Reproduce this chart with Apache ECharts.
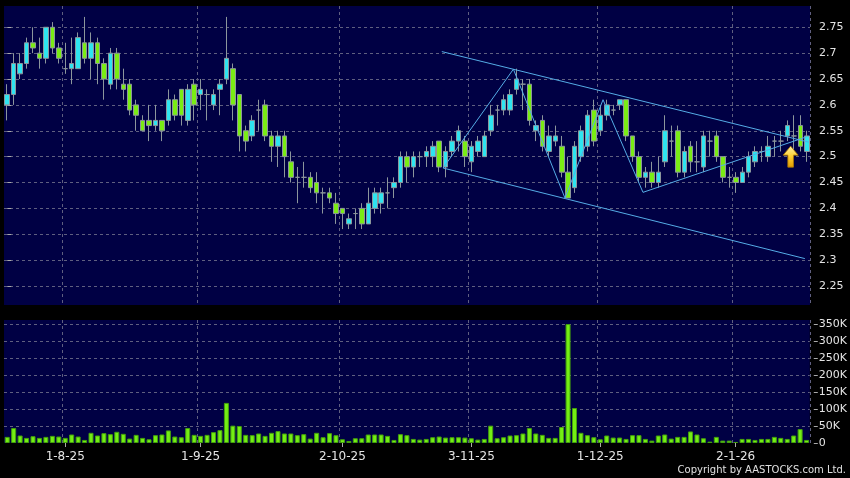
<!DOCTYPE html>
<html><head><meta charset="utf-8">
<script src="https://cdn.jsdelivr.net/npm/echarts@6/dist/echarts.min.js"></script>
<style>html,body{margin:0;padding:0;background:#000;}#c{width:850px;height:478px;}</style>
</head><body><div id="c"></div>
<script>
// ---- categories (trading days, HK calendar) ----
const firstTradingDay = '2025-07-21';
const holidays = ['2025-10-01','2025-10-07','2025-10-29','2025-12-25','2025-12-26','2026-01-01'];
const barCount = 125;

// ---- price series ----
const open  = [2.60,2.62,2.66,2.68,2.72,2.70,2.69,2.75,2.71,2.67, 2.67,2.67,2.72,2.69,2.72,2.68,2.64,2.70,2.64,2.64,
               2.60,2.57,2.57,2.56,2.57,2.57,2.61,2.63,2.57,2.64, 2.62,2.62,2.60,2.63,2.65,2.67,2.62,2.55,2.54,2.59,
               2.60,2.54,2.52,2.54,2.49,2.46,2.46,2.46,2.45,2.43, 2.43,2.41,2.40,2.37,2.39,2.40,2.37,2.40,2.41,2.43,
               2.44,2.45,2.50,2.48,2.50,2.50,2.50,2.53,2.48,2.51, 2.53,2.53,2.49,2.51,2.50,2.55,2.59,2.59,2.59,2.63,
               2.64,2.64,2.55,2.57,2.51,2.53,2.52,2.47,2.44,2.50, 2.52,2.59,2.55,2.58,2.59,2.60,2.61,2.54,2.50,2.46,
               2.47,2.45,2.49,2.53,2.55,2.47,2.52,2.49,2.48,2.53, 2.54,2.50,2.46,2.46,2.45,2.47,2.49,2.51,2.50,2.53,
               2.53,2.54,2.54,2.56,2.51];
const close = [2.62,2.68,2.68,2.72,2.71,2.69,2.75,2.71,2.69,2.67, 2.68,2.73,2.69,2.72,2.68,2.65,2.70,2.65,2.63,2.59,
               2.58,2.55,2.56,2.57,2.55,2.61,2.58,2.58,2.63,2.60, 2.63,2.62,2.62,2.64,2.69,2.60,2.54,2.53,2.57,2.59,
               2.54,2.52,2.54,2.50,2.46,2.46,2.46,2.44,2.43,2.43, 2.42,2.39,2.39,2.38,2.39,2.37,2.41,2.43,2.43,2.43,
               2.45,2.50,2.48,2.50,2.50,2.51,2.52,2.48,2.51,2.53, 2.55,2.50,2.52,2.53,2.54,2.58,2.59,2.61,2.62,2.65,
               2.64,2.57,2.56,2.52,2.54,2.54,2.47,2.42,2.52,2.55, 2.58,2.53,2.58,2.60,2.59,2.61,2.54,2.50,2.46,2.47,
               2.45,2.47,2.55,2.53,2.47,2.51,2.49,2.49,2.54,2.53, 2.50,2.46,2.46,2.45,2.47,2.50,2.51,2.51,2.52,2.53,
               2.53,2.56,2.54,2.52,2.54];
const low   = [2.57,2.60,2.65,2.67,2.70,2.67,2.68,2.70,2.68,2.66, 2.64,2.67,2.68,2.65,2.64,2.61,2.63,2.63,2.61,2.58,
               2.55,2.55,2.53,2.55,2.53,2.56,2.57,2.56,2.56,2.57, 2.59,2.57,2.59,2.58,2.64,2.57,2.51,2.51,2.53,2.55,
               2.53,2.49,2.48,2.46,2.45,2.41,2.44,2.43,2.41,2.39, 2.41,2.37,2.36,2.36,2.36,2.36,2.37,2.39,2.39,2.40,
               2.42,2.44,2.45,2.46,2.48,2.48,2.48,2.47,2.46,2.50, 2.51,2.48,2.47,2.50,2.50,2.54,2.56,2.58,2.58,2.62,
               2.59,2.56,2.53,2.51,2.50,2.52,2.46,2.42,2.43,2.49, 2.51,2.52,2.54,2.57,2.58,2.59,2.53,2.49,2.45,2.44,
               2.44,2.44,2.48,2.50,2.46,2.46,2.47,2.47,2.47,2.50, 2.49,2.45,2.44,2.43,2.45,2.46,2.48,2.49,2.49,2.50,
               2.51,2.53,2.50,2.51,2.49];
const high  = [2.64,2.70,2.70,2.73,2.75,2.73,2.75,2.76,2.72,2.72, 2.73,2.74,2.77,2.74,2.73,2.69,2.71,2.71,2.67,2.65,
               2.61,2.58,2.60,2.60,2.57,2.63,2.62,2.63,2.64,2.65, 2.65,2.63,2.63,2.65,2.77,2.68,2.62,2.56,2.58,2.61,
               2.61,2.55,2.55,2.55,2.51,2.48,2.49,2.47,2.47,2.44, 2.44,2.43,2.40,2.39,2.40,2.41,2.44,2.44,2.44,2.46,
               2.46,2.51,2.51,2.51,2.51,2.52,2.53,2.53,2.52,2.54, 2.56,2.54,2.53,2.54,2.55,2.60,2.60,2.62,2.63,2.67,
               2.65,2.65,2.57,2.58,2.56,2.56,2.54,2.50,2.53,2.56, 2.59,2.61,2.60,2.61,2.60,2.61,2.61,2.54,2.51,2.48,
               2.49,2.50,2.58,2.56,2.56,2.52,2.53,2.53,2.55,2.55, 2.55,2.50,2.48,2.47,2.48,2.51,2.52,2.52,2.54,2.54,
               2.55,2.57,2.58,2.58,2.55];
// ---- volume, thousands of shares ----
const volumeK = [18,44,22,15,20,15,18,21,19,15, 25,19,9,30,22,29,26,33,27,13, 24,15,11,23,25,37,19,17,44,24,
                 21,24,32,38,118,51,50,24,23,28, 21,30,35,28,28,23,26,13,30,17, 29,23,11,6,14,14,25,25,25,21,
                 9,26,23,12,10, 12,17,19,16,17, 17,16,14,10,12, 51,14,17,22,23, 28,44,28,24,15,
                 15,47,350,103,30, 23,17,11,22,16, 16,12,23,23,12, 7,22,25,13,18, 18,34,25,14,4,
                 18,7,7,3,12, 12,9,12,12,18, 15,12,22,41,9];
// ---- price-axis tick labels (y) and volume tick labels ----
const priceTicks = [2.25,2.3,2.35,2.4,2.45,2.5,2.55,2.6,2.65,2.7,2.75];
const volumeTicksK = [0,50,100,150,200,250,300,350];

// ---- drawn annotations, in data space [bar index, price] ----
const channelUpper = [[67.4,2.703],[124.3,2.528]];
const channelLower = [[67.6,2.478],[123.7,2.303]];
const zigzag = [[67.6,2.478],[78.5,2.669],[86.5,2.420],[92.4,2.610],[98.6,2.431],[123.9,2.538]];
const arrowMark = [[121.5,2.50]];

function buildTradingDays(start, count, hol){
  const out=[]; const d=new Date(start+'T00:00:00Z');
  while(out.length<count){
    const dow=d.getUTCDay(); const iso=d.toISOString().slice(0,10);
    if(dow!==0 && dow!==6 && !hol.includes(iso)) out.push(iso);
    d.setUTCDate(d.getUTCDate()+1);
  }
  return out;
}
const dates = buildTradingDays(firstTradingDay, barCount, holidays);
const monthStart = new Set();
dates.forEach((d,i)=>{ if(i>0 && d.slice(5,7)!==dates[i-1].slice(5,7)) monthStart.add(i); });
const isMonthStart = (i)=>monthStart.has(i);
const fmtDate = (iso)=>{ const p=iso.split('-'); return (+p[2])+'-'+(+p[1])+'-'+p[0].slice(2); };

const gridDash = {color:'#5f5f80', type:[3,3], width:1};
const labelColor = '#e4e4e4';
const chart = echarts.init(document.getElementById('c'), null, {renderer:'canvas', width:850, height:478});

const option = {
  backgroundColor:'#000000',
  animation:false,
  grid:[
    {left:4, right:40, top:6, height:299, show:true, backgroundColor:'#000044', borderWidth:0},
    {left:4, right:40, top:320, height:123, show:true, backgroundColor:'#000044', borderWidth:0}
  ],
  xAxis:[
    {type:'category', gridIndex:0, data:dates, boundaryGap:true,
     axisLine:{show:false}, axisTick:{show:false}, axisLabel:{show:false},
     splitLine:{show:true, interval:isMonthStart, lineStyle:gridDash}},
    {type:'category', gridIndex:1, data:dates, boundaryGap:true,
     axisLine:{show:false},
     axisTick:{show:true, alignWithLabel:true, interval:isMonthStart, length:4, lineStyle:{color:'#aaaaaa'}},
     axisLabel:{show:true, interval:isMonthStart, color:labelColor, fontSize:12, fontFamily:'DejaVu Sans', margin:8, formatter:fmtDate},
     splitLine:{show:true, interval:isMonthStart, lineStyle:gridDash}},
    {type:'value', gridIndex:0, min:-0.5, max:barCount-0.5, show:false}
  ],
  yAxis:[
    {type:'value', gridIndex:0, position:'right', min:2.2133, max:2.7911, scale:true,
     minInterval:0.05, maxInterval:0.05, offset:4,
     axisLine:{show:false},
     axisTick:{show:true, length:4, lineStyle:{color:'#aaaaaa'}},
     axisLabel:{color:labelColor, fontSize:11, fontFamily:'DejaVu Sans', margin:5, showMinLabel:false, showMaxLabel:false,
       formatter:(v)=>{ const t=priceTicks.find(p=>Math.abs(p-v)<1e-6); return t===undefined?'':String(t); }},
     splitLine:{show:true, showMinLine:false, showMaxLine:false, lineStyle:gridDash}},
    {type:'value', gridIndex:1, position:'right', min:0, max:362,
     minInterval:50, maxInterval:50, offset:4,
     axisLine:{show:false},
     axisTick:{show:true, length:4, lineStyle:{color:'#aaaaaa'}},
     axisLabel:{color:labelColor, fontSize:11, fontFamily:'DejaVu Sans', margin:5, showMaxLabel:false,
       formatter:(v)=>{ const t=volumeTicksK.find(p=>Math.abs(p-v)<1e-6); return t===undefined?'':(t===0?'0':t+'K'); }},
     splitLine:{show:true, showMinLine:false, showMaxLine:false, lineStyle:gridDash}}
  ],
  series:[
    {type:'candlestick', name:'price', xAxisIndex:0, yAxisIndex:0, barWidth:5,
     data: dates.map((_,i)=>[open[i],close[i],low[i],high[i]]),
     itemStyle:{color:'#2ee4f0', color0:'#7aec14', borderColor:'#8c969c', borderColor0:'#8c969c', borderColorDoji:'#8c969c', borderWidth:1}},
    {type:'bar', name:'volume', xAxisIndex:1, yAxisIndex:1, barWidth:5, data:volumeK,
     itemStyle:{color:'#74ee14', borderColor:'#44a00c', borderWidth:1}},
    {type:'line', xAxisIndex:2, yAxisIndex:0, data:channelUpper, symbol:'none', silent:true, lineStyle:{color:'#55ace6', width:1}},
    {type:'line', xAxisIndex:2, yAxisIndex:0, data:channelLower, symbol:'none', silent:true, lineStyle:{color:'#55ace6', width:1}},
    {type:'line', xAxisIndex:2, yAxisIndex:0, data:zigzag, symbol:'none', silent:true, lineStyle:{color:'#55ace6', width:1}},
    {type:'scatter', xAxisIndex:2, yAxisIndex:0, data:arrowMark, silent:true,
     symbol:'path://M8,0 L16,9 L11,9 L11,21 L5,21 L5,9 L0,9 Z', symbolSize:[15,21],
     itemStyle:{color:new echarts.graphic.LinearGradient(0,0,0,1,[{offset:0,color:'#fff4a8'},{offset:0.5,color:'#ffd030'},{offset:1,color:'#e09a00'}]),
                borderColor:'#b07800', borderWidth:0.8, opacity:1}}
  ],
  graphic:[
    {type:'text', right:4, top:465, silent:true,
     style:{text:'Copyright by AASTOCKS.com Ltd.', fill:'#e0e0e0', font:'10px "DejaVu Sans"'}}
  ]
};
chart.setOption(option);
</script>
</body></html>
